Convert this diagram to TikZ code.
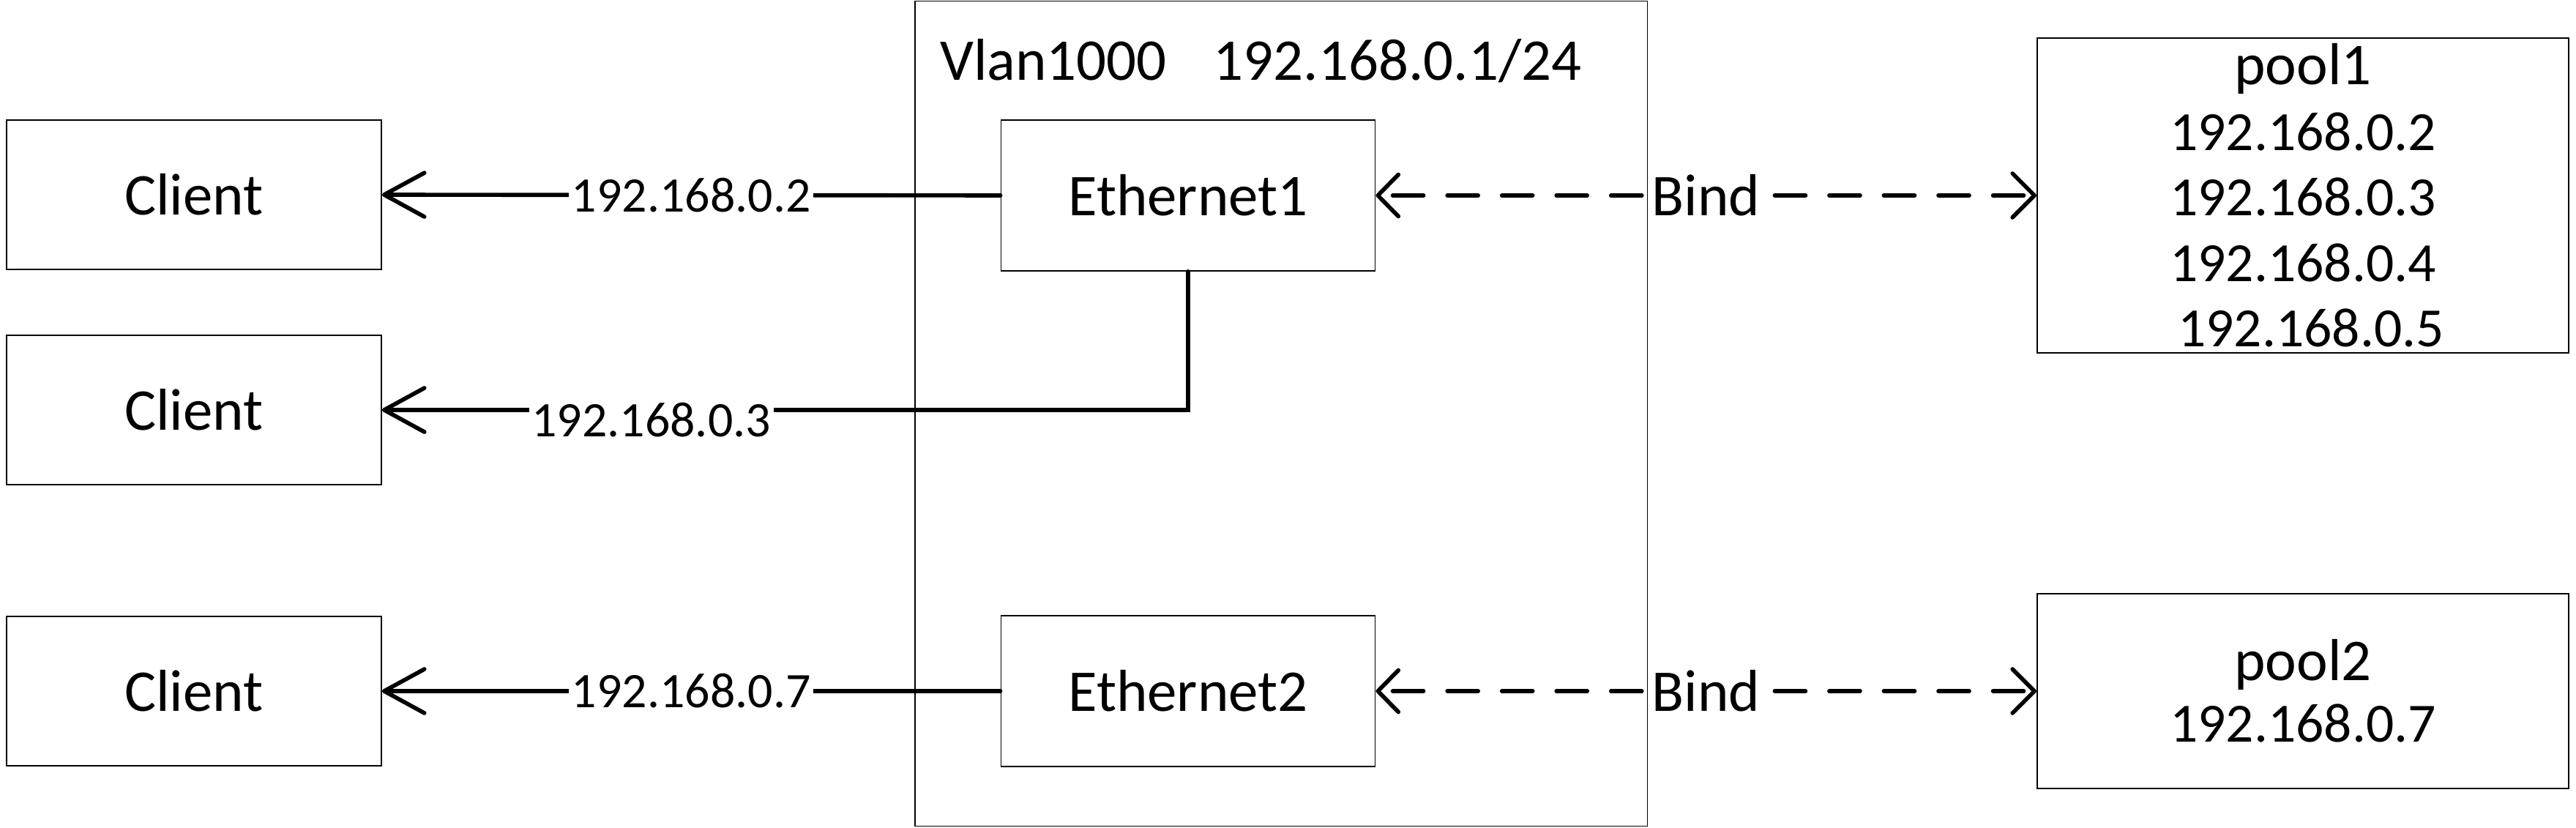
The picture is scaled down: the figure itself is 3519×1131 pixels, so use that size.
\documentclass[tikz,border=0pt]{standalone}
\usepackage{fontspec}
\setmainfont{Carlito}
\usetikzlibrary{arrows.meta}
\begin{document}
\begin{tikzpicture}[x=0.01cm,y=-0.01cm,
  box/.style={draw, line width=0.45pt, inner sep=0pt, align=center, font=\fontsize{23}{25.6}\selectfont},
  big/.style={font=\fontsize{23}{25.6}\selectfont, inner sep=1pt},
  conn/.style={line width=1.6pt, line cap=round, -{Straight Barb[round,length=0.55cm,width=0.6cm]}},
  bindline/.style={line width=1.6pt, line cap=round, dash pattern=on 0.42cm off 0.325cm, dash phase=0.57cm,
    {Straight Barb[round,length=0.28cm,width=0.57cm]}-{Straight Barb[round,length=0.3cm,width=0.6cm]}},
  lbl/.style={fill=white, inner sep=1pt, font=\fontsize{19.3}{23}\selectfont}]
\useasboundingbox (0,0) rectangle (3519,1131);
% VLAN container
\node[box, minimum width=10cm, minimum height=11.26cm] (vlan) at (1750,565) {};
\node[big, anchor=base west] (vtitle) at (1280,110) {Vlan1000\hspace{0.64cm}192.168.0.1/24};
% clients
\node[box, minimum width=5.12cm, minimum height=2.04cm] (c1) at (265,266) {Client};
\node[box, minimum width=5.12cm, minimum height=2.04cm] (c2) at (265,560) {Client};
\node[box, minimum width=5.12cm, minimum height=2.04cm] (c3) at (265,944) {Client};
% interfaces
\node[box, minimum width=5.11cm, minimum height=2.06cm] (e1) at (1623,267) {Ethernet1};
\node[box, minimum width=5.11cm, minimum height=2.06cm] (e2) at (1623,944) {Ethernet2};
% pools
\node[box, minimum width=7.26cm, minimum height=4.30cm, font=\fontsize{21.5}{25.44}\selectfont] (p1) at (3146,267)
  {\fontsize{23}{25.44}\selectfont pool1\\192.168.0.2\\192.168.0.3\\192.168.0.4\\\kern0.22cm 192.168.0.5};
\node[box, minimum width=7.26cm, minimum height=2.66cm, font=\fontsize{21.5}{23.9}\selectfont] (p2) at (3146,944)
  {\fontsize{23}{23.9}\selectfont pool2\\192.168.0.7};
% connectors
\draw[conn] (e1.west) -- node[lbl] {192.168.0.2} (c1.east);
\draw[conn] (e1.south) |- node[lbl, pos=0.833, yshift=-0.14cm] {192.168.0.3} (c2.east);
\draw[conn] (e2.west) -- node[lbl] {192.168.0.7} (c3.east);
\draw[bindline] (e1.east) -- node[big, fill=white, inner sep=1pt] {Bind} (p1.west);
\draw[bindline] (e2.east) -- node[big, fill=white, inner sep=1pt] {Bind} (p2.west);
\end{tikzpicture}
\end{document}
